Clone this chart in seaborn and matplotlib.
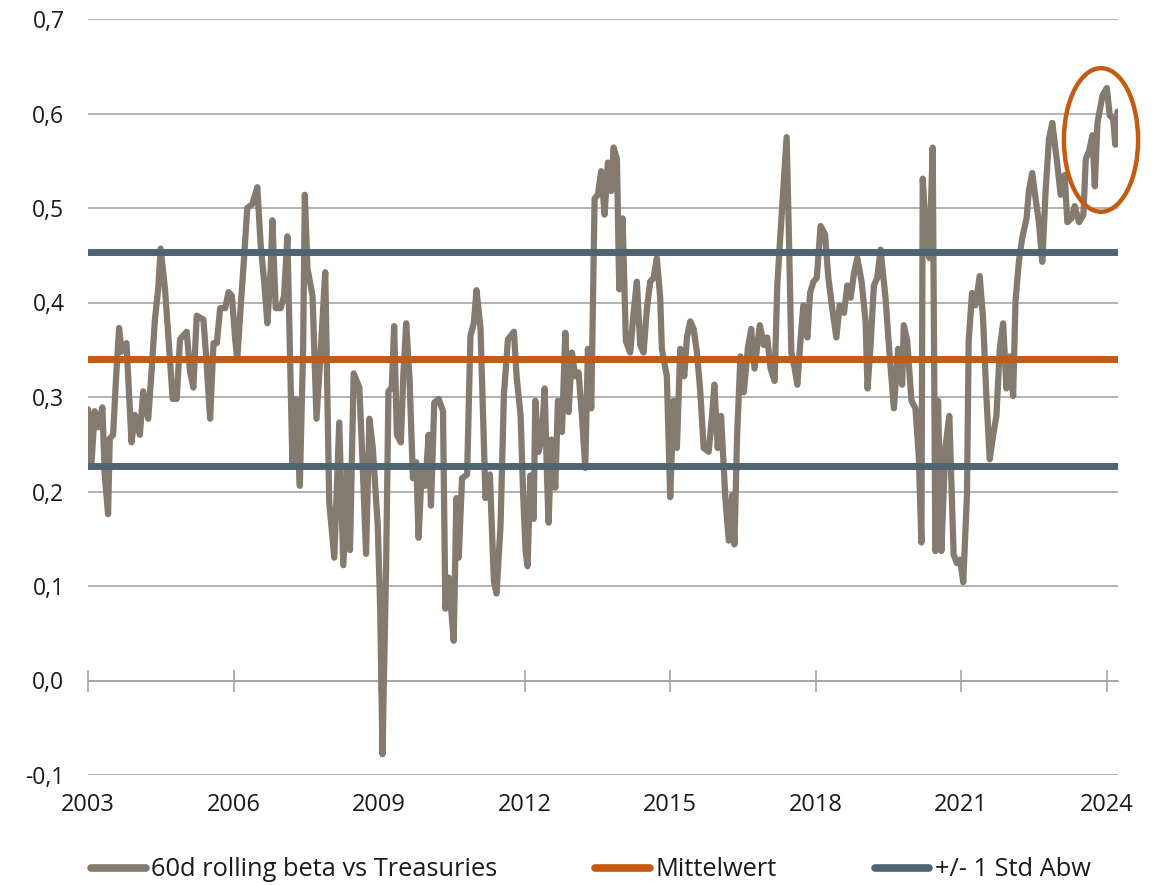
import numpy as np
import pandas as pd
import matplotlib
matplotlib.use("Agg")
import matplotlib.pyplot as plt
import seaborn as sns
from matplotlib.patches import Ellipse

# ---------------- data ----------------
years = [
    2003.000, 2003.069, 2003.138, 2003.207, 2003.297, 2003.345, 2003.414, 2003.448, 2003.517, 2003.586,
    2003.641, 2003.690, 2003.793, 2003.897, 2003.966, 2004.069, 2004.138, 2004.241, 2004.310, 2004.379,
    2004.448, 2004.497, 2004.586, 2004.655, 2004.745, 2004.828, 2004.897, 2005.034, 2005.103, 2005.172,
    2005.241, 2005.379, 2005.434, 2005.517, 2005.586, 2005.655, 2005.724, 2005.828, 2005.897, 2005.966,
    2006.034, 2006.076, 2006.145, 2006.214, 2006.283, 2006.386, 2006.490, 2006.559, 2006.628, 2006.697,
    2006.766, 2006.800, 2006.869, 2006.972, 2007.041, 2007.110, 2007.179, 2007.214, 2007.283, 2007.366,
    2007.434, 2007.469, 2007.524, 2007.628, 2007.710, 2007.800, 2007.890, 2007.972, 2008.076, 2008.179,
    2008.262, 2008.352, 2008.400, 2008.476, 2008.593, 2008.662, 2008.731, 2008.800, 2008.869, 2008.972,
    2009.021, 2009.070, 2009.145, 2009.193, 2009.262, 2009.310, 2009.366, 2009.448, 2009.503, 2009.559,
    2009.628, 2009.697, 2009.766, 2009.814, 2009.883, 2009.952, 2010.021, 2010.069, 2010.138, 2010.228,
    2010.317, 2010.366, 2010.434, 2010.538, 2010.593, 2010.641, 2010.710, 2010.814, 2010.883, 2010.952,
    2011.007, 2011.090, 2011.193, 2011.283, 2011.366, 2011.421, 2011.503, 2011.572, 2011.655, 2011.779,
    2011.834, 2011.917, 2011.970, 2012.020, 2012.060, 2012.117, 2012.185, 2012.220, 2012.288, 2012.357,
    2012.412, 2012.460, 2012.494, 2012.549, 2012.632, 2012.686, 2012.769, 2012.838, 2012.906, 2012.975,
    2013.043, 2013.112, 2013.181, 2013.249, 2013.304, 2013.373, 2013.442, 2013.510, 2013.579, 2013.648,
    2013.716, 2013.785, 2013.833, 2013.902, 2013.950, 2014.018, 2014.087, 2014.176, 2014.245, 2014.313,
    2014.382, 2014.451, 2014.519, 2014.588, 2014.657, 2014.725, 2014.794, 2014.828, 2014.931, 2015.000,
    2015.069, 2015.138, 2015.207, 2015.290, 2015.345, 2015.414, 2015.483, 2015.552, 2015.621, 2015.690,
    2015.793, 2015.862, 2015.910, 2015.979, 2016.048, 2016.138, 2016.207, 2016.276, 2016.324, 2016.379,
    2016.448, 2016.517, 2016.600, 2016.669, 2016.738, 2016.848, 2016.931, 2017.000, 2017.069, 2017.152,
    2017.207, 2017.262, 2017.310, 2017.359, 2017.400, 2017.448, 2017.497, 2017.566, 2017.621, 2017.690,
    2017.745, 2017.828, 2017.883, 2017.952, 2018.021, 2018.100, 2018.192, 2018.260, 2018.342, 2018.425,
    2018.493, 2018.582, 2018.651, 2018.719, 2018.788, 2018.856, 2018.945, 2019.027, 2019.068, 2019.130,
    2019.199, 2019.267, 2019.336, 2019.438, 2019.507, 2019.610, 2019.699, 2019.781, 2019.815, 2019.884,
    2019.973, 2020.055, 2020.123, 2020.178, 2020.205, 2020.274, 2020.342, 2020.411, 2020.466, 2020.521,
    2020.589, 2020.671, 2020.753, 2020.842, 2020.911, 2020.979, 2021.040, 2021.117, 2021.152, 2021.221,
    2021.290, 2021.379, 2021.448, 2021.517, 2021.586, 2021.655, 2021.724, 2021.793, 2021.862, 2021.931,
    2022.000, 2022.069, 2022.117, 2022.186, 2022.255, 2022.345, 2022.393, 2022.462, 2022.531, 2022.600,
    2022.669, 2022.738, 2022.807, 2022.876, 2022.966, 2023.048, 2023.131, 2023.186, 2023.269, 2023.338,
    2023.428, 2023.517, 2023.566, 2023.634, 2023.703, 2023.752, 2023.807, 2023.910, 2024.000, 2024.060,
    2024.130, 2024.175, 2024.220,
]
beta = [
    0.287, 0.227, 0.285, 0.268, 0.289, 0.218, 0.176, 0.256, 0.260, 0.327,
    0.373, 0.348, 0.357, 0.252, 0.281, 0.260, 0.306, 0.277, 0.327, 0.382,
    0.415, 0.457, 0.415, 0.365, 0.298, 0.298, 0.361, 0.369, 0.327, 0.310,
    0.386, 0.382, 0.344, 0.277, 0.357, 0.357, 0.394, 0.394, 0.411, 0.407,
    0.361, 0.340, 0.394, 0.445, 0.500, 0.504, 0.522, 0.461, 0.424, 0.378,
    0.436, 0.487, 0.394, 0.394, 0.407, 0.470, 0.310, 0.227, 0.298, 0.206,
    0.352, 0.514, 0.436, 0.407, 0.277, 0.352, 0.432, 0.189, 0.130, 0.273,
    0.122, 0.227, 0.138, 0.325, 0.310, 0.227, 0.134, 0.277, 0.247, 0.164,
    0.080, -0.078, 0.122, 0.306, 0.310, 0.375, 0.260, 0.252, 0.327, 0.378,
    0.319, 0.214, 0.231, 0.151, 0.227, 0.206, 0.260, 0.185, 0.294, 0.298,
    0.285, 0.076, 0.109, 0.042, 0.193, 0.130, 0.214, 0.218, 0.365, 0.378,
    0.413, 0.373, 0.193, 0.218, 0.105, 0.092, 0.164, 0.302, 0.361, 0.369,
    0.322, 0.280, 0.196, 0.137, 0.121, 0.217, 0.171, 0.296, 0.242, 0.259,
    0.309, 0.217, 0.167, 0.255, 0.204, 0.296, 0.263, 0.368, 0.284, 0.347,
    0.322, 0.326, 0.280, 0.225, 0.351, 0.288, 0.510, 0.514, 0.539, 0.493,
    0.548, 0.518, 0.564, 0.552, 0.414, 0.489, 0.359, 0.347, 0.389, 0.422,
    0.355, 0.347, 0.393, 0.422, 0.426, 0.447, 0.405, 0.351, 0.322, 0.194,
    0.296, 0.246, 0.351, 0.322, 0.363, 0.380, 0.372, 0.347, 0.305, 0.246,
    0.242, 0.280, 0.313, 0.246, 0.280, 0.192, 0.148, 0.196, 0.144, 0.259,
    0.343, 0.305, 0.351, 0.372, 0.330, 0.376, 0.355, 0.363, 0.330, 0.317,
    0.418, 0.464, 0.502, 0.539, 0.575, 0.468, 0.347, 0.330, 0.313, 0.363,
    0.397, 0.363, 0.410, 0.422, 0.426, 0.481, 0.472, 0.426, 0.393, 0.363,
    0.397, 0.389, 0.418, 0.405, 0.431, 0.447, 0.422, 0.380, 0.309, 0.355,
    0.418, 0.426, 0.456, 0.405, 0.355, 0.288, 0.351, 0.313, 0.376, 0.360,
    0.296, 0.288, 0.238, 0.146, 0.531, 0.472, 0.447, 0.564, 0.137, 0.296,
    0.137, 0.246, 0.280, 0.133, 0.124, 0.128, 0.104, 0.196, 0.359, 0.410,
    0.397, 0.428, 0.384, 0.301, 0.234, 0.259, 0.280, 0.351, 0.378, 0.309,
    0.343, 0.301, 0.401, 0.443, 0.468, 0.489, 0.518, 0.537, 0.510, 0.485,
    0.443, 0.518, 0.573, 0.590, 0.552, 0.514, 0.535, 0.485, 0.489, 0.502,
    0.485, 0.493, 0.552, 0.560, 0.577, 0.523, 0.590, 0.619, 0.627, 0.598,
    0.594, 0.567, 0.602,
]
mean_val = 0.340
std_upper = 0.4535
std_lower = 0.2275

series_label = "60d rolling beta vs Treasuries"
mean_label = "Mittelwert"
std_label = "+/- 1 Std Abw"

y_ticks = [-0.1, 0.0, 0.1, 0.2, 0.3, 0.4, 0.5, 0.6, 0.7]
y_tick_labels = ["-0,1", "0,0", "0,1", "0,2", "0,3", "0,4", "0,5", "0,6", "0,7"]
x_ticks = [2003, 2006, 2009, 2012, 2015, 2018, 2021, 2024]
x_tick_labels = ["2003", "2006", "2009", "2012", "2015", "2018", "2021", "2024"]

# highlight ellipse (data coords)
ellipse_center = (2023.88, 0.572)
ellipse_w = 1.53
ellipse_h = 0.152

# ---------------- style ----------------
c_series = "#857a70"
c_mean = "#c55a11"
c_std = "#4e6470"
c_grid = "#a6a6a6"
c_text = "#1a1a1a"

sns.set_theme(style="white")
plt.rcParams["font.family"] = ["Open Sans", "DejaVu Sans"]
plt.rcParams["text.color"] = c_text
plt.rcParams["xtick.color"] = c_text
plt.rcParams["ytick.color"] = c_text

fig = plt.figure(figsize=(11.65, 8.85), dpi=100)
ax = fig.add_axes([88 / 1165, 1 - 775 / 885, (1118 - 88) / 1165, (775 - 19) / 885])

df = pd.DataFrame({"Jahr": years, "Beta": beta})
sns.lineplot(data=df, x="Jahr", y="Beta", ax=ax, color=c_series, lw=4.5,
             label=series_label, zorder=3, solid_capstyle="round",
             solid_joinstyle="round")
ax.axhline(mean_val, color=c_mean, lw=5, zorder=4, label=mean_label,
           solid_capstyle="round")
ax.axhline(std_upper, color=c_std, lw=5, zorder=4, label=std_label,
           solid_capstyle="round")
ax.axhline(std_lower, color=c_std, lw=5, zorder=4, solid_capstyle="round")

ax.add_patch(Ellipse(ellipse_center, ellipse_w, ellipse_h, fill=False,
                     edgecolor=c_mean, lw=3.2, zorder=5, clip_on=False))

ax.set_xlim(2003.0, 2024.23)
ax.set_ylim(-0.1, 0.7)
ax.set_xlabel("")
ax.set_ylabel("")

ax.set_yticks(y_ticks)
ax.set_yticklabels(y_tick_labels, fontsize=16.5)
ax.tick_params(axis="y", left=False, length=0, pad=17)
ax.yaxis.grid(True, color=c_grid, lw=1.2, zorder=0)
ax.xaxis.grid(False)
ax.set_axisbelow(True)

for s in ["left", "right", "top"]:
    ax.spines[s].set_visible(False)
ax.spines["bottom"].set_position(("data", 0))
ax.spines["bottom"].set_color(c_grid)
ax.spines["bottom"].set_linewidth(1.2)
ax.set_xticks(x_ticks)
ax.tick_params(axis="x", bottom=True, direction="inout", length=16, width=1.2,
               color=c_grid, labelbottom=False)

sec = ax.secondary_xaxis(0)
sec.set_xticks(x_ticks)
sec.set_xticklabels(x_tick_labels, fontsize=17)
sec.tick_params(bottom=False, length=0, pad=13)
sec.spines["bottom"].set_visible(False)

handles, labels = ax.get_legend_handles_labels()
if ax.get_legend() is not None:
    ax.get_legend().remove()
leg = fig.legend(handles, labels, loc="center left",
                 bbox_to_anchor=(91 / 1165, 1 - 870 / 885), ncol=3,
                 frameon=False, fontsize=18.3, handlelength=2.15,
                 handletextpad=0.22, columnspacing=3.85, borderpad=0,
                 borderaxespad=0)
for h in leg.get_lines():
    h.set_linewidth(5.5)
    h.set_solid_capstyle("round")

fig.savefig("out.png", dpi=100)
